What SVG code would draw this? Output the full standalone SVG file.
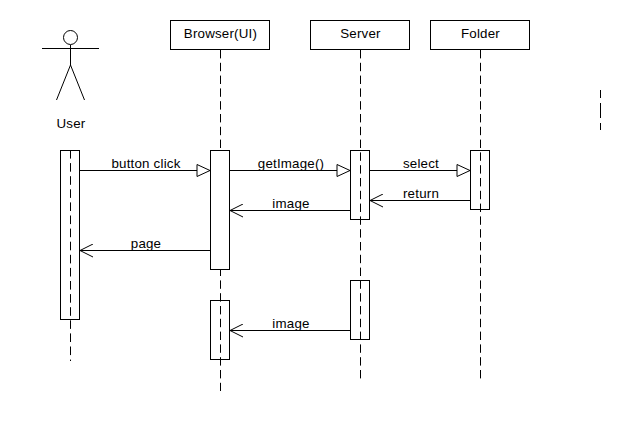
<svg xmlns="http://www.w3.org/2000/svg" width="640" height="430" viewBox="0 0 640 430">
<style>
text{font-family:"Liberation Sans",Arial,sans-serif;font-size:13.33px;letter-spacing:0.2px;fill:#000;text-anchor:middle}
.s{fill:none;stroke:#000;stroke-width:1}
.b{fill:#fff;stroke:#000;stroke-width:1}
.d{fill:none;stroke:#000;stroke-width:1;stroke-dasharray:8.4 4.4}
</style>
<defs>
<marker id="open" markerUnits="userSpaceOnUse" markerWidth="16" markerHeight="14" refX="14" refY="7" orient="auto"><path d="M1 0.5L14 7L1 13.5" fill="none" stroke="#000"/></marker>
<marker id="tri" markerUnits="userSpaceOnUse" markerWidth="16" markerHeight="14" refX="14" refY="7" orient="auto"><path d="M1 1L14 7L1 13Z" fill="#fff" stroke="#000"/></marker>
</defs>
<g id="user">
<circle class="s" cx="70.5" cy="37.5" r="7"/>
<path class="s" d="M42 48.5H99M70.5 45V65M70.5 65L56.5 100M70.5 65L84.5 100"/>
<text x="71" y="128">User</text>
<rect class="b" x="60.5" y="150.5" width="19" height="169"/>
<path class="d" style="stroke-dasharray:8.6 4.5" d="M70.5 150V361"/>
</g>
<g id="browser">
<rect class="b" x="170.5" y="20.5" width="99" height="29"/>
<text x="220.5" y="38">Browser(UI)</text>
<path class="d" d="M220.5 50V391"/>
<rect class="b" x="210.5" y="150.5" width="19" height="119"/>
<rect class="s" x="210.5" y="300.5" width="19" height="59"/>
</g>
<g id="server">
<rect class="b" x="310.5" y="20.5" width="99" height="29"/>
<text x="360.5" y="38">Server</text>
<path class="d" d="M360.5 50V380"/>
<rect class="s" x="350.5" y="150.5" width="19" height="69"/>
<rect class="s" x="350.5" y="280.5" width="19" height="59"/>
</g>
<g id="folder">
<rect class="b" x="430.5" y="20.5" width="99" height="29"/>
<text x="480.5" y="38">Folder</text>
<path class="d" d="M480.5 50V380"/>
<rect class="s" x="470.5" y="150.5" width="19" height="59"/>
</g>
<path id="fragment" class="d" style="stroke-dasharray:8 5 15 5 7" d="M600.5 90V130"/>
<g id="connectors">
<path class="s" d="M80 170.5H210" marker-end="url(#tri)"/>
<path class="s" d="M230 170.5H350" marker-end="url(#tri)"/>
<path class="s" d="M370 170.5H470" marker-end="url(#tri)"/>
<path class="s" d="M470 200.5H370" marker-end="url(#open)"/>
<path class="s" d="M350 210.5H230" marker-end="url(#open)"/>
<path class="s" d="M210 250.5H80" marker-end="url(#open)"/>
<path class="s" d="M350 330.5H230" marker-end="url(#open)"/>
<text x="146" y="168">button click</text>
<text x="291" y="168">getImage()</text>
<text x="421" y="168">select</text>
<text x="421" y="198">return</text>
<text x="291" y="208">image</text>
<text x="146" y="248">page</text>
<text x="291" y="328">image</text>
</g>
</svg>
